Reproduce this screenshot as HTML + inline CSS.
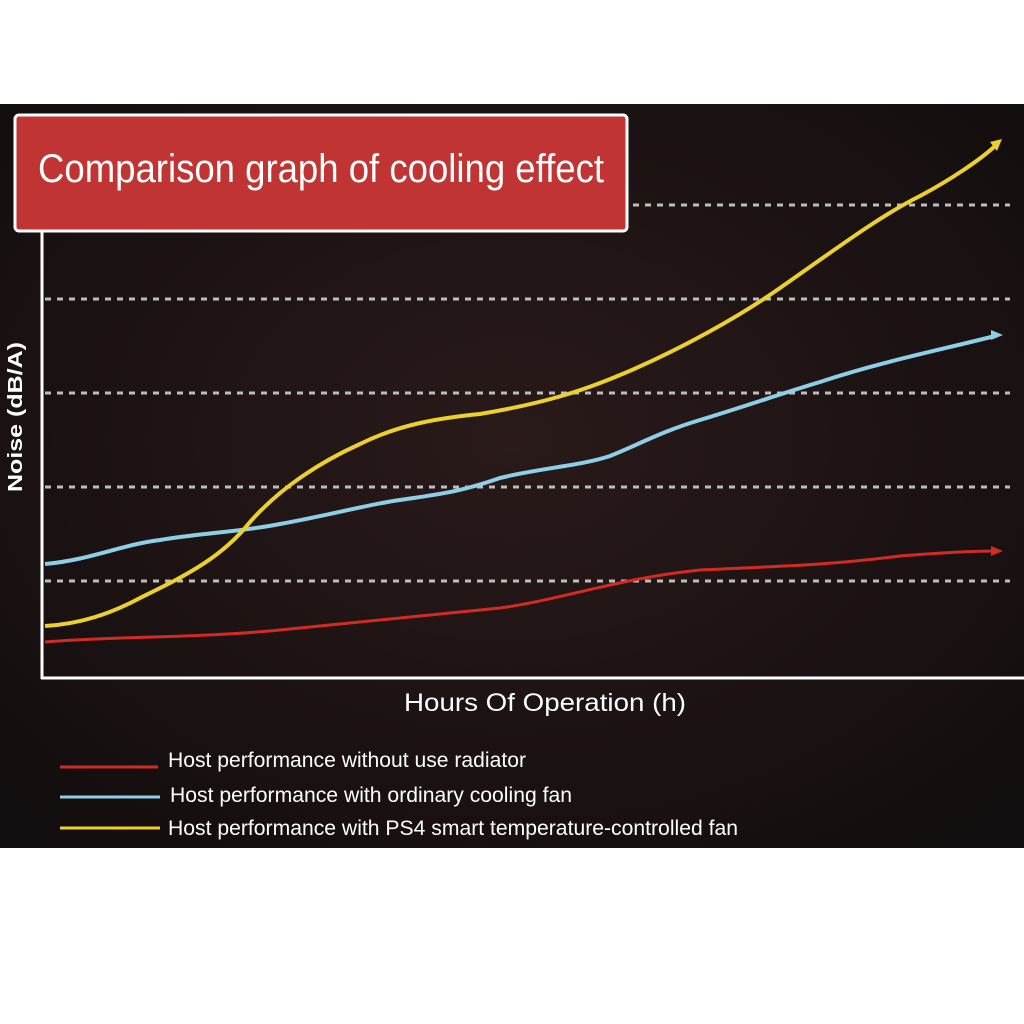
<!DOCTYPE html>
<html><head><style>
body{margin:0;width:1024px;height:1024px;background:#fff;overflow:hidden;position:relative;font-family:"Liberation Sans",sans-serif}
</style></head><body>
<svg width="1024" height="1024" style="position:absolute;left:0;top:0">
<defs>
<radialGradient id="g" cx="0.5" cy="0.45" r="0.7">
<stop offset="0" stop-color="#2a1a1a"/><stop offset="1" stop-color="#120d0e"/>
</radialGradient>
</defs>
<rect x="0" y="104" width="1024" height="744" fill="url(#g)"/>
<g stroke="#bdbdbd" stroke-width="3" stroke-dasharray="6,6">
<line x1="45" y1="205" x2="1010" y2="205"/>
<line x1="45" y1="299" x2="1010" y2="299"/>
<line x1="45" y1="393" x2="1010" y2="393"/>
<line x1="45" y1="487" x2="1010" y2="487"/>
<line x1="45" y1="581" x2="1010" y2="581"/>
</g>
<line x1="42" y1="232" x2="42" y2="679" stroke="#fff" stroke-width="3"/>
<line x1="41" y1="678" x2="1024" y2="678" stroke="#fff" stroke-width="3"/>
<path d="M45 642 C120 636 200 638 280 630 C360 622 440 614 500 608 C560 600 620 578 700 570 C780 566 820 566 900 556 C950 552 980 551 995 551" fill="none" stroke="#d42a24" stroke-width="3"/>
<polygon points="1003,551 991,546 991,556" fill="#d42a24"/>
<path d="M45 564 C90 560 120 545 160 540 C200 533 240 532 280 524 C330 515 370 504 400 500 C440 494 460 492 500 478 C540 468 580 466 610 456 C640 444 660 432 700 420 C740 408 780 394 820 382 C880 362 940 350 995 336" fill="none" stroke="#8ecfe8" stroke-width="4"/>
<polygon points="1003,335 991,330 991,340" fill="#8ecfe8"/>
<path d="M45 626 C80 624 110 614 140 598 C180 578 220 560 250 522 C280 488 320 462 360 444 C400 424 440 418 480 414 C540 404 580 392 620 375 C680 350 740 316 780 288 C840 246 880 216 920 196 C950 180 980 160 995 146" fill="none" stroke="#ecd02c" stroke-width="4"/>
<polygon points="1002,139 990,142 997,151" fill="#ecd02c"/>
<rect x="15" y="115" width="612" height="116" rx="4" fill="#c03434" stroke="#fff" stroke-width="3"/>
<text x="38" y="182" fill="#fff" font-size="40" textLength="566" lengthAdjust="spacingAndGlyphs">Comparison graph of cooling effect</text>
<text transform="translate(22,492) rotate(-90)" fill="#fff" font-size="20" font-weight="bold" textLength="150" lengthAdjust="spacingAndGlyphs">Noise (dB/A)</text>
<text x="404" y="711" fill="#fff" font-size="25" textLength="282" lengthAdjust="spacingAndGlyphs">Hours Of Operation (h)</text>
<line x1="60" y1="767" x2="158" y2="767" stroke="#d42a24" stroke-width="3"/>
<line x1="60" y1="797" x2="160" y2="797" stroke="#8ecfe8" stroke-width="3"/>
<line x1="60" y1="828" x2="160" y2="828" stroke="#ecd02c" stroke-width="3"/>
<g fill="#fff" font-size="21">
<text x="168" y="767" textLength="358" lengthAdjust="spacingAndGlyphs">Host performance without use radiator</text>
<text x="170" y="802" textLength="402" lengthAdjust="spacingAndGlyphs">Host performance with ordinary cooling fan</text>
<text x="168" y="835" textLength="570" lengthAdjust="spacingAndGlyphs">Host performance with PS4 smart temperature-controlled fan</text>
</g>
</svg>
</body></html>
